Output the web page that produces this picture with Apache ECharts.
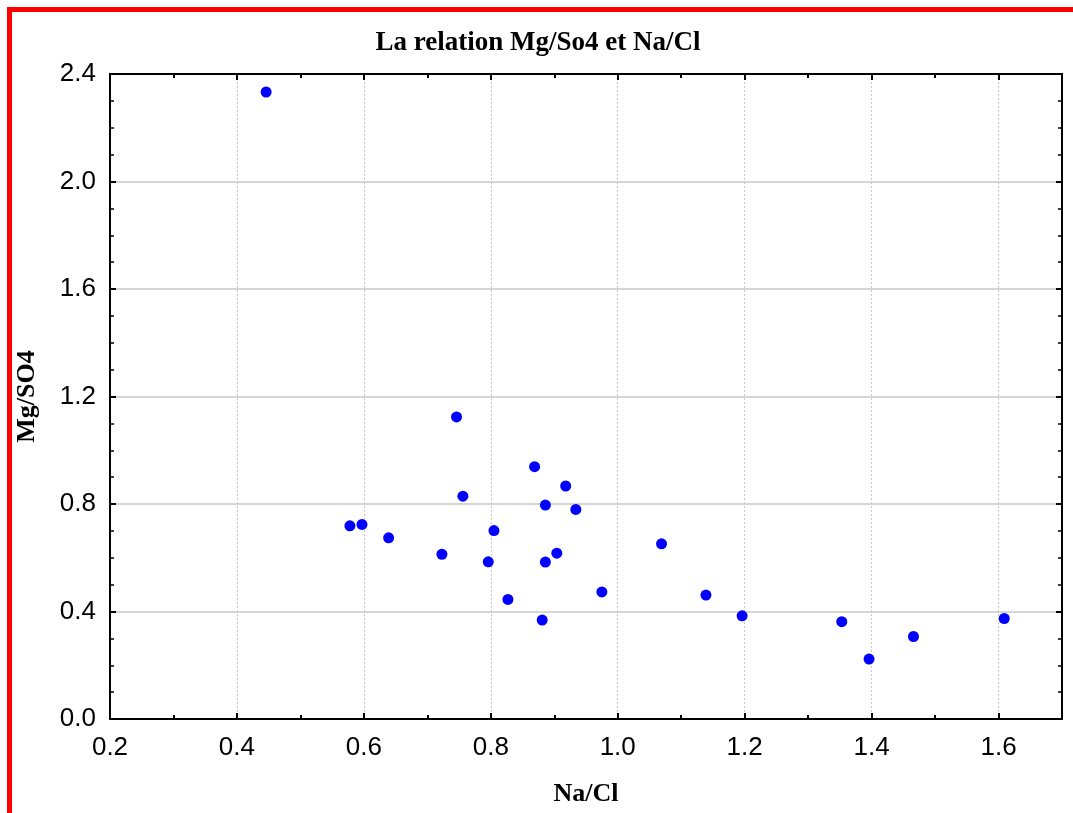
<!DOCTYPE html>
<html>
<head>
<meta charset="utf-8">
<script src="https://cdn.jsdelivr.net/npm/echarts@6/dist/echarts.min.js"></script>
<style>
html,body{margin:0;padding:0;background:#fff;}
#chart{width:1073px;height:813px;}
</style>
</head>
<body>
<div id="chart"></div>
<script>
const titleText = "La relation Mg/So4 et Na/Cl";
const xName = "Na/Cl";
const yName = "Mg/SO4";
const naCl = [0.446, 0.746, 0.869, 0.918, 0.756, 0.886, 0.934, 0.578, 0.597, 0.639, 0.805, 0.723, 0.796, 0.904, 0.886, 0.975, 0.827, 0.881, 1.069, 1.139, 1.196, 1.353, 1.396, 1.466, 1.609];
const mgSO4 = [2.333, 1.124, 0.939, 0.867, 0.829, 0.796, 0.780, 0.719, 0.724, 0.674, 0.701, 0.613, 0.585, 0.617, 0.584, 0.473, 0.445, 0.368, 0.652, 0.461, 0.384, 0.362, 0.223, 0.307, 0.374];

const points = naCl.map((x, i) => [x, mgSO4[i]]);

const chart = echarts.init(document.getElementById('chart'), null, {renderer: 'canvas'});
const labelFont = {color: '#000', fontFamily: 'Liberation Sans, Arial, sans-serif', fontSize: 26};
const serifBold = {fontFamily: 'Liberation Serif, Times New Roman, serif', fontWeight: 'bold', fontSize: 26, color: '#000'};
const tickCommon = {
  axisLine: {show: true, onZero: false, lineStyle: {color: '#000', width: 2}},
  axisTick: {show: true, inside: true, length: 6, lineStyle: {color: '#000', width: 2}}
};
chart.setOption({
  animation: false,
  backgroundColor: '#fff',
  title: {
    text: titleText, left: 533, top: 25, textAlign: 'center',
    textStyle: Object.assign({}, serifBold, {fontSize: 27})
  },
  grid: {left: 110, top: 74, width: 952, height: 645, containLabel: false},
  xAxis: [{
    type: 'value', min: 0.2, max: 1.7, interval: 0.2, position: 'bottom',
    name: xName, nameLocation: 'middle', nameGap: 62,
    nameTextStyle: serifBold,
    axisLabel: Object.assign({margin: 16, showMaxLabel: false, formatter: v => v.toFixed(1)}, labelFont),
    ...tickCommon,
    minorTick: {show: true, splitNumber: 2, length: 4, lineStyle: {color: '#000', width: 2}},
    splitLine: {show: true, lineStyle: {color: '#c8c8c8', width: 1, type: [2, 2]}},
    minorSplitLine: {show: false}
  }, {
    type: 'value', min: 0.2, max: 1.7, interval: 0.2, position: 'top',
    axisLabel: {show: false},
    ...tickCommon,
    minorTick: {show: true, splitNumber: 2, length: 4, lineStyle: {color: '#000', width: 2}},
    splitLine: {show: false}
  }],
  yAxis: [{
    type: 'value', min: 0, max: 2.4, interval: 0.4, position: 'left',
    name: yName, nameLocation: 'middle', nameGap: 70, nameRotate: 90,
    nameTextStyle: serifBold,
    axisLabel: Object.assign({margin: 14, formatter: v => v.toFixed(1)}, labelFont),
    ...tickCommon,
    minorTick: {show: true, splitNumber: 4, length: 4, lineStyle: {color: '#000', width: 1.5}},
    splitLine: {show: true, lineStyle: {color: '#c8c8c8', width: 1.5}}
  }, {
    type: 'value', min: 0, max: 2.4, interval: 0.4, position: 'right',
    axisLabel: {show: false},
    ...tickCommon,
    minorTick: {show: true, splitNumber: 4, length: 4, lineStyle: {color: '#000', width: 1.5}},
    splitLine: {show: false}
  }],
  graphic: [
    {type: 'rect', shape: {x: 7, y: 7, width: 1066, height: 5}, style: {fill: '#ff0000'}, z: 100},
    {type: 'rect', shape: {x: 7, y: 7, width: 5, height: 806}, style: {fill: '#ff0000'}, z: 100}
  ],
  series: [{
    type: 'scatter',
    xAxisIndex: 0, yAxisIndex: 0,
    data: points,
    symbol: 'circle',
    symbolSize: 11,
    itemStyle: {color: '#0000ff', opacity: 1},
    z: 10
  }]
});
</script>
</body>
</html>
